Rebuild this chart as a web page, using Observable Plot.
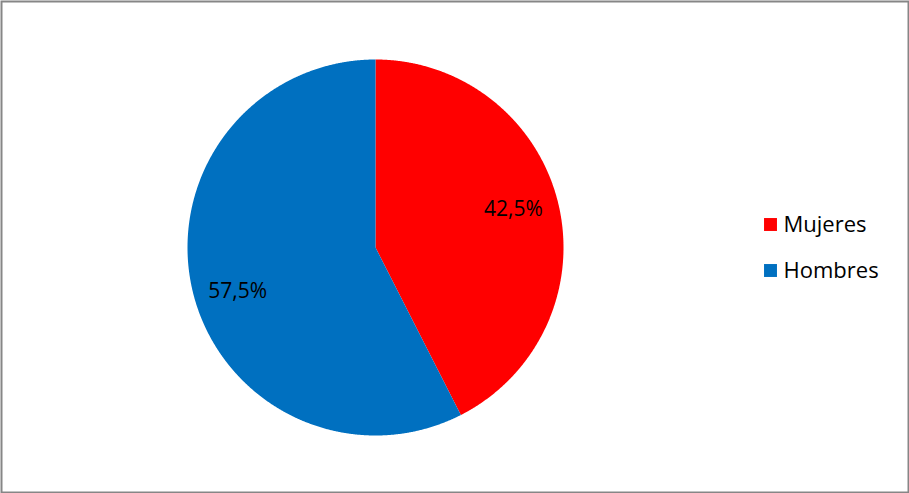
<!DOCTYPE html>
<html>
<head>
<meta charset="utf-8">
<script src="https://cdn.jsdelivr.net/npm/d3@7"></script>
<script src="https://cdn.jsdelivr.net/npm/@observablehq/plot@0.6"></script>
<style>
  html, body { margin: 0; padding: 0; background: #fff; }
  svg { display: block; }
</style>
</head>
<body>
<div id="chart"></div>
<script>
const categories = ["Mujeres", "Hombres"];
const values = [42.5, 57.5];
const labels = ["42,5%", "57,5%"];
const colors = ["#FF0000", "#0070C0"];

const W = 909, H = 493;
const cx = 375, cy = 247, R = 188;

const pie = d3.pie().sort(null).value(d => d.value)(
  categories.map((c, i) => ({cat: c, value: values[i], label: labels[i]}))
);

// Wedge outlines (from the pie angles)
const pts = [];
for (const a of pie) {
  pts.push({cat: a.data.cat, x: cx, y: cy});
  const n = Math.max(2, Math.ceil((a.endAngle - a.startAngle) / (Math.PI / 720)));
  for (let k = 0; k <= n; k++) {
    const t = a.startAngle + (a.endAngle - a.startAngle) * k / n;
    pts.push({cat: a.data.cat, x: cx + R * Math.sin(t), y: cy - R * Math.cos(t)});
  }
  pts.push({cat: a.data.cat, x: cx, y: cy});
}

const labelPts = pie.map(a => {
  const m = (a.startAngle + a.endAngle) / 2 - 3 * Math.PI / 180;
  return {label: a.data.label, x: cx + 0.765 * R * Math.sin(m), y: cy - 0.765 * R * Math.cos(m)};
});

const legend = categories.map((c, i) => ({cat: c, x: 770, y: 224 + i * 46}));

const chart = Plot.plot({
  width: W,
  height: H,
  margin: 0,
  x: {domain: [0, W], range: [0, W], axis: null},
  y: {domain: [0, H], range: [0, H], axis: null},
  color: {domain: categories, range: colors},
  style: {background: "#fff", fontFamily: "'Open Sans', 'Liberation Sans', sans-serif"},
  marks: [
    Plot.line(pts, {x: "x", y: "y", z: "cat", fill: "cat", stroke: "none", curve: "linear"}),
    Plot.text(labelPts, {x: "x", y: "y", text: "label", fontSize: 21, fill: "#000", dy: 3}),
    Plot.dot(legend, {x: "x", y: "y", symbol: "square", r: 7.3, fill: "cat", stroke: "none"}),
    Plot.text(legend, {x: d => d.x + 13, y: "y", text: "cat", textAnchor: "start", fontSize: 22, fill: "#000"}),
    Plot.frame({stroke: "#868686", strokeWidth: 2, inset: 1})
  ]
});
document.getElementById("chart").appendChild(chart);
</script>
</body>
</html>
